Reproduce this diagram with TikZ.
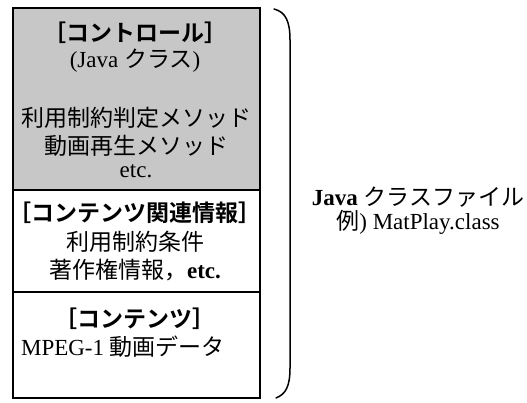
\documentclass[tikz,border=0pt]{standalone}
\usepackage{fontspec}
\setmainfont{Liberation Serif}
\newfontfamily\jp{Noto Sans CJK JP}[BoldFont={Noto Sans CJK JP Bold}]
\begin{document}
\begin{tikzpicture}[x=1pt,y=-1pt,
  sect/.style={draw=black,line width=1.6pt,anchor=north west,inner sep=0pt},
  txt/.style={inner sep=0pt,font=\fontsize{23}{27}\selectfont},
  hd/.style={txt,font=\fontsize{23}{27}\selectfont\bfseries}]
\useasboundingbox (0,0) rectangle (527,402);
\node[sect,fill=black!22,minimum width=247pt,minimum height=182pt] (ctrl) at (12,7) {};
\node[sect,minimum width=247pt,minimum height=102pt] (info) at (12,189) {};
\node[sect,minimum width=247pt,minimum height=106pt] (cont) at (12,291) {};
% control section
\node[hd] (c1) at (135,33) {{\jp\bfseries ［コントロール］}};
\node[txt] (c2) at (135,61) {(Java {\jp クラス})};
\node[txt] (c3) at (136,118) {\jp 利用制約判定メソッド};
\node[txt] (c4) at (136,146) {\jp 動画再生メソッド};
\node[txt] (c5) at (136,171) {etc.};
% info section
\node[hd] (i1) at (135,213) {{\jp\bfseries ［コンテンツ関連情報］}};
\node[txt] (i2) at (135,242) {\jp 利用制約条件};
\node[txt] (i3) at (135,270) {{\jp 著作権情報，}\bfseries etc.};
% content section
\node[hd] (k1) at (135,319) {{\jp\bfseries ［コンテンツ］}};
\node[txt] (k2) at (123,347) {MPEG-1 {\jp 動画データ}};
% brace
\draw[line width=1.5pt,line cap=round] (274,9) .. controls (286,12) and (290,22) .. (290,40) -- (290,368) .. controls (290,386) and (286,394) .. (276,398);
% right label
\node[txt] (r1) at (418,197) {\bfseries Java {\jp\mdseries クラスファイル}};
\node[txt] (r2) at (418,222) {{\jp 例}) MatPlay.class};
\end{tikzpicture}
\end{document}
